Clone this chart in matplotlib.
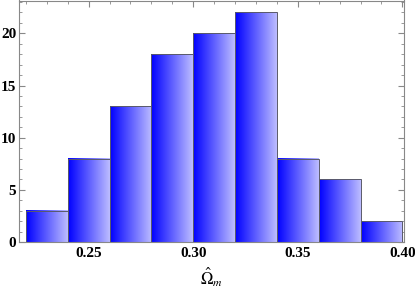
import numpy as np
import matplotlib
matplotlib.use("Agg")
import matplotlib.pyplot as plt
from matplotlib.ticker import MultipleLocator

bin_edges = [0.22, 0.24, 0.26, 0.28, 0.30, 0.32, 0.34, 0.36, 0.38, 0.40]
counts = [3, 8, 13, 18, 20, 22, 8, 6, 2]
x_ticks = [0.25, 0.30, 0.35, 0.40]
x_tick_labels = ["0.25", "0.30", "0.35", "0.40"]
y_ticks = [0, 5, 10, 15, 20]

plt.rcParams['font.family'] = ['Liberation Serif', 'DejaVu Serif']
plt.rcParams['mathtext.fontset'] = 'stix'

fig = plt.figure(figsize=(4.15, 2.95), dpi=100)
ax = fig.add_axes([19/415, (295-242)/295, (404-19)/415, 241.5/295])

# horizontal gradient blue -> light blue
n = 256
t = np.linspace(0, 1, n)
grad = np.zeros((1, n, 3))
grad[0, :, 0] = t * 0.74
grad[0, :, 1] = t * 0.74
grad[0, :, 2] = 1.0

lefts = bin_edges[:-1]
widths = np.diff(bin_edges)
bars = ax.bar(lefts, counts, width=widths, align='edge', facecolor='none',
              edgecolor='#5a5a6a', linewidth=0.7, zorder=3)
for b, l, w, c in zip(bars, lefts, widths, counts):
    ax.imshow(grad, extent=[l, l + w, 0, c], aspect='auto',
              interpolation='bilinear', zorder=2)

ax.set_xlim(0.2167, 0.4008)
ax.set_ylim(0, 23.15)
ax.set_xticks(x_ticks)
ax.set_xticklabels(x_tick_labels)
ax.set_yticks(y_ticks)
ax.xaxis.set_minor_locator(MultipleLocator(0.01))
ax.yaxis.set_minor_locator(MultipleLocator(1))
ax.tick_params(which='both', direction='in', top=True, right=True,
               color='#888888', labelsize=11)
ax.tick_params(axis='y', which='major', pad=2)
ax.tick_params(which='major', length=4, width=0.8)
ax.tick_params(which='minor', length=2, width=0.6)
for lab in ax.get_xticklabels() + ax.get_yticklabels():
    lab.set_fontweight('bold')
for s in ax.spines.values():
    s.set_color('#888888')
    s.set_linewidth(0.8)
ax.set_xlabel(r'$\hat{\Omega}_m$', fontsize=12, labelpad=4)

fig.savefig('out.png', dpi=100)
